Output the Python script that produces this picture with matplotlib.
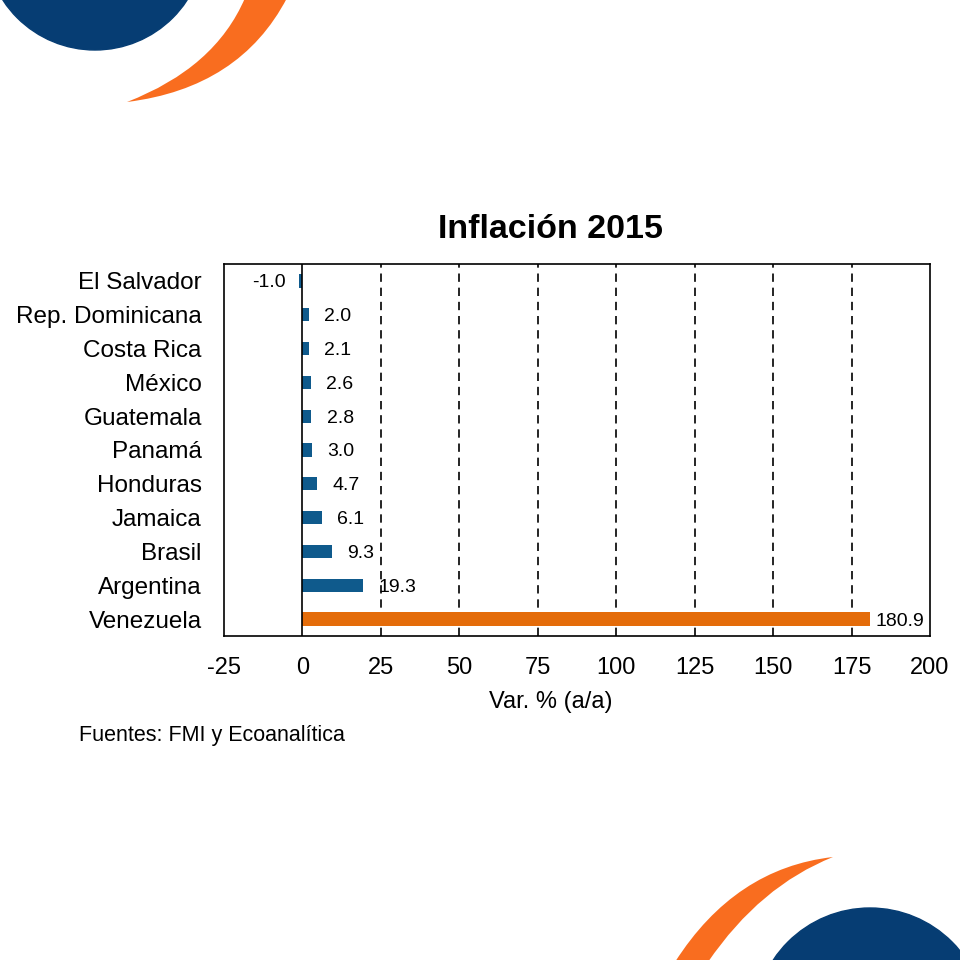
import matplotlib.pyplot as plt
from matplotlib.patches import Circle, PathPatch
from matplotlib.path import Path

plt.rcParams['font.family'] = ['Liberation Sans', 'DejaVu Sans']

# data
countries = ["El Salvador", "Rep. Dominicana", "Costa Rica", "México", "Guatemala",
             "Panamá", "Honduras", "Jamaica", "Brasil", "Argentina", "Venezuela"]
inflation = [-1.0, 2.0, 2.1, 2.6, 2.8, 3.0, 4.7, 6.1, 9.3, 19.3, 180.9]
highlight = "Venezuela"
xticks = [-25, 0, 25, 50, 75, 100, 125, 150, 175, 200]

BLUE = "#0f5a8c"
ORANGE = "#e46c0a"
NAVY = "#063d73"
SWOOSH = "#f96d1f"

fig = plt.figure(figsize=(9.6, 9.6), dpi=100)

# background decorations in pixel coordinates
deco = fig.add_axes([0, 0, 1, 1], zorder=0)
deco.set_xlim(0, 960)
deco.set_ylim(960, 0)
deco.axis("off")
deco.add_patch(Circle((95, -60), 110, color=NAVY))
deco.add_patch(Circle((870, 1024), 116, color=NAVY))


def crescent(p0, c_out, p1, p2, c_in):
    verts = [p0, c_out, p1, p2, c_in, p0, p0]
    codes = [Path.MOVETO, Path.CURVE3, Path.CURVE3, Path.LINETO,
             Path.CURVE3, Path.CURVE3, Path.CLOSEPOLY]
    return PathPatch(Path(verts, codes), color=SWOOSH, lw=0)


deco.add_patch(crescent((127, 102), (240, 88), (287, -2), (245, -2), (215, 68)))
deco.add_patch(crescent((833, 857), (735, 868), (675, 962), (708, 962), (760, 886)))

# main chart
ax = fig.add_axes([224 / 960, 1 - 636 / 960, 706 / 960, 372 / 960], zorder=1)
ypos = list(range(len(countries)))
colors = [ORANGE if c == highlight else BLUE for c in countries]
ax.barh(ypos, inflation, height=0.39, color=colors, zorder=3)

for c, y, v in zip(countries, ypos, inflation):
    if v < 0:
        ax.annotate(f"{v:.1f}", (v, y), xytext=(-10, 0), textcoords="offset points",
                    ha="right", va="center_baseline", fontsize=14)
    else:
        off = 4 if c == highlight else 11
        ax.annotate(f"{v:.1f}", (v, y), xytext=(off, 0), textcoords="offset points",
                    ha="left", va="center_baseline", fontsize=14)

ax.set_xlim(-25, 200)
ax.set_ylim(len(countries) - 0.5, -0.5)
ax.set_xticks(xticks)
ax.set_xticklabels([str(t) for t in xticks], fontsize=17)
ax.set_yticks(ypos)
ax.set_yticklabels(countries, fontsize=17.5)
ax.tick_params(axis="both", length=0)
ax.tick_params(axis="x", pad=15)
ax.tick_params(axis="y", pad=16)
ax.axvline(0, color="black", lw=1.2, zorder=4)
for t in xticks[2:-1]:
    ax.axvline(t, color="black", lw=1.2, ls=(0, (5, 3.5)), zorder=2)
for s in ax.spines.values():
    s.set_linewidth(1.2)

fig.text(551 / 960, 1 - 230 / 960, "Inflación 2015", ha="center", va="center",
         fontsize=24.5, fontweight="bold")
fig.text(551 / 960, 1 - 702 / 960, "Var. % (a/a)", ha="center", va="center", fontsize=17)
fig.text(79 / 960, 1 - 735 / 960, "Fuentes: FMI y Ecoanalítica", ha="left", va="center",
         fontsize=15.5)

fig.savefig("out.png", dpi=100)
